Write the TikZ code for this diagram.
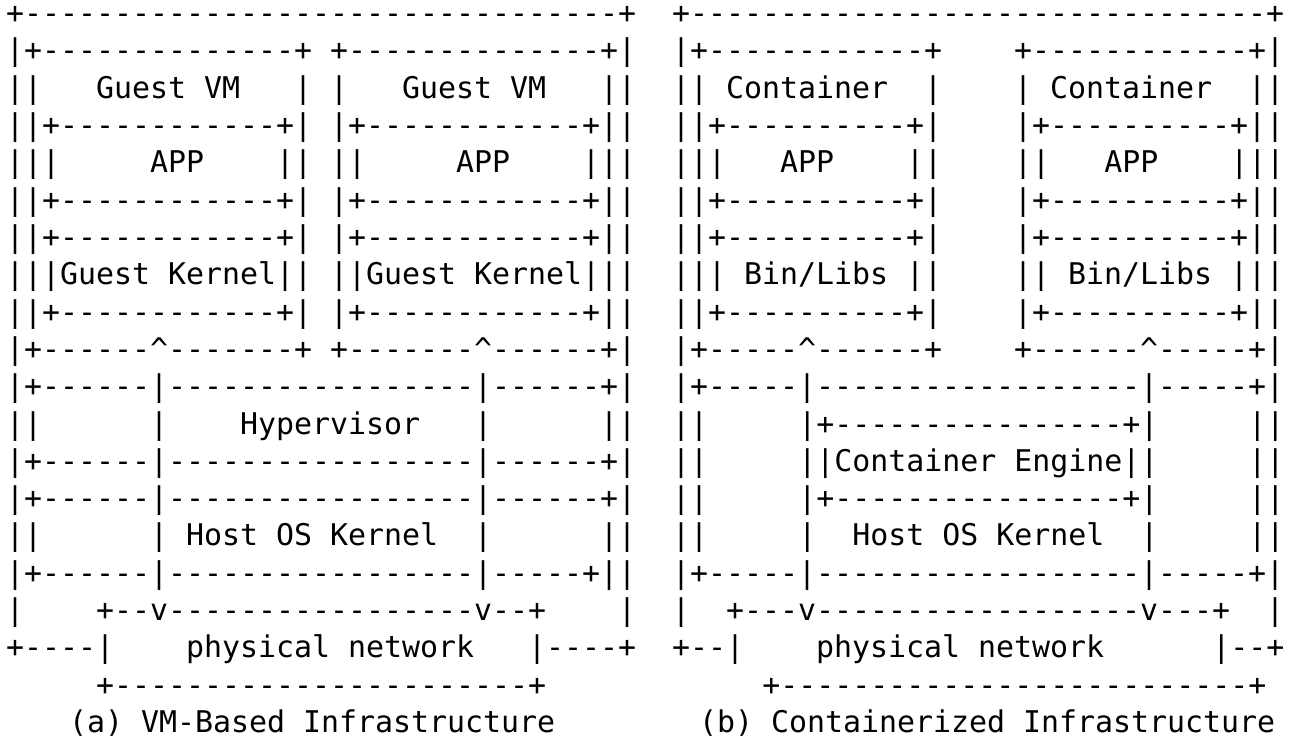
\documentclass[tikz,border=0pt]{standalone}
\usepackage{fontspec}
\setmonofont{DejaVu Sans Mono}
\usepackage{tikz}
\usetikzlibrary{positioning}

\newcommand\tipup{\textasciicircum}

\begin{document}
\begin{tikzpicture}[
  x=1pt, y=1pt,
  asciirow/.style={anchor=base west, inner sep=0pt,
    font=\ttfamily\fontsize{29.9pt}{37.3pt}\selectfont}
]
  \fill[white] (0,0) rectangle (1295,-752);
  \useasboundingbox (0,0) rectangle (1295,-752);

  % (a) VM-based, left; (b) containerized, right
  \node[asciirow] (row0) at (6,-23.7) {+---------------------------------+~~+--------------------------------+};
  \node[asciirow] (row1) at (6,-61.0) {|+--------------+~+--------------+|~~|+------------+~~~~+------------+|};
  \node[asciirow] (row2) at (6,-98.3) {||~~~Guest~VM~~~|~|~~~Guest~VM~~~||~~||~Container~~|~~~~|~Container~~||};
  \node[asciirow] (row3) at (6,-135.6) {||+------------+|~|+------------+||~~||+----------+|~~~~|+----------+||};
  \node[asciirow] (row4) at (6,-172.9) {|||~~~~~APP~~~~||~||~~~~~APP~~~~|||~~|||~~~APP~~~~||~~~~||~~~APP~~~~|||};
  \node[asciirow] (row5) at (6,-210.2) {||+------------+|~|+------------+||~~||+----------+|~~~~|+----------+||};
  \node[asciirow] (row6) at (6,-247.5) {||+------------+|~|+------------+||~~||+----------+|~~~~|+----------+||};
  \node[asciirow] (row7) at (6,-284.8) {|||Guest~Kernel||~||Guest~Kernel|||~~|||~Bin/Libs~||~~~~||~Bin/Libs~|||};
  \node[asciirow] (row8) at (6,-322.1) {||+------------+|~|+------------+||~~||+----------+|~~~~|+----------+||};
  \node[asciirow] (row9) at (6,-359.4) {|+------\tipup-------+~+-------\tipup------+|~~|+-----\tipup------+~~~~+------\tipup-----+|};
  \node[asciirow] (row10) at (6,-396.7) {|+------|-----------------|------+|~~|+-----|------------------|-----+|};
  \node[asciirow] (row11) at (6,-434.0) {||~~~~~~|~~~~Hypervisor~~~|~~~~~~||~~||~~~~~|+----------------+|~~~~~||};
  \node[asciirow] (row12) at (6,-471.3) {|+------|-----------------|------+|~~||~~~~~||Container~Engine||~~~~~||};
  \node[asciirow] (row13) at (6,-508.6) {|+------|-----------------|------+|~~||~~~~~|+----------------+|~~~~~||};
  \node[asciirow] (row14) at (6,-545.9) {||~~~~~~|~Host~OS~Kernel~~|~~~~~~||~~||~~~~~|~~Host~OS~Kernel~~|~~~~~||};
  \node[asciirow] (row15) at (6,-583.2) {|+------|-----------------|-----+||~~|+-----|------------------|-----+|};
  \node[asciirow] (row16) at (6,-620.5) {|~~~~+--v-----------------v--+~~~~|~~|~~+---v------------------v---+~~|};
  \node[asciirow] (row17) at (6,-657.8) {+----|~~~~physical~network~~~|----+~~+--|~~~~physical~network~~~~~~|--+};
  \node[asciirow] (row18) at (6,-695.1) {~~~~~+-----------------------+~~~~~~~~~~~~+--------------------------+};

  % captions
  \node[asciirow] (capA) at (69,-732.4) {(a)~VM-Based~Infrastructure};
  \node[asciirow] (capB) at (699,-732.4) {(b)~Containerized~Infrastructure};
\end{tikzpicture}
\end{document}
